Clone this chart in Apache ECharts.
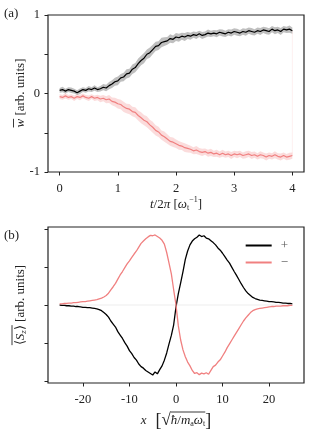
<!DOCTYPE html>
<html><head><meta charset="utf-8">
<script src="https://cdn.jsdelivr.net/npm/echarts@6/dist/echarts.min.js"></script>
<style>html,body{margin:0;padding:0;background:#fff}#c{width:319px;height:443px}</style>
</head><body><div id="c"></div>
<script>
// ---------- Panel (a) data ----------
var tA = [0,0.05,0.1,0.15,0.2,0.25,0.3,0.35,0.4,0.45,0.5,0.55,0.6,0.65,0.7,0.75,0.8,0.85,0.9,0.95,
1,1.05,1.1,1.15,1.2,1.25,1.3,1.35,1.4,1.45,1.5,1.55,1.6,1.65,1.7,1.75,1.8,1.85,1.9,1.95,
2,2.05,2.1,2.15,2.2,2.25,2.3,2.35,2.4,2.45,2.5,2.55,2.6,2.65,2.7,2.75,2.8,2.85,2.9,2.95,
3,3.05,3.1,3.15,3.2,3.25,3.3,3.35,3.4,3.45,3.5,3.55,3.6,3.65,3.7,3.75,3.8,3.85,3.9,3.95,4];
var wPlus = [0.04,0.05,0.03,0.05,0.04,0.03,0.01,0.03,0.05,0.04,0.06,0.05,0.07,0.05,0.06,0.08,0.07,0.10,0.12,0.15,
0.16,0.20,0.21,0.25,0.26,0.31,0.33,0.38,0.42,0.45,0.50,0.52,0.56,0.60,0.61,0.65,0.66,0.67,0.70,0.69,
0.72,0.71,0.73,0.72,0.74,0.73,0.75,0.74,0.76,0.74,0.75,0.77,0.76,0.77,0.76,0.78,0.77,0.76,0.78,0.77,
0.79,0.78,0.77,0.79,0.78,0.80,0.79,0.78,0.80,0.79,0.81,0.80,0.79,0.82,0.80,0.81,0.79,0.82,0.81,0.82,0.80];
var wMinus = [-0.04,-0.05,-0.03,-0.05,-0.04,-0.06,-0.04,-0.05,-0.03,-0.05,-0.06,-0.04,-0.06,-0.05,-0.07,-0.06,-0.08,-0.07,-0.10,-0.11,
-0.13,-0.14,-0.17,-0.19,-0.20,-0.23,-0.24,-0.28,-0.31,-0.34,-0.36,-0.40,-0.43,-0.47,-0.49,-0.53,-0.55,-0.58,-0.61,-0.62,
-0.64,-0.66,-0.67,-0.69,-0.70,-0.71,-0.73,-0.72,-0.74,-0.75,-0.74,-0.76,-0.75,-0.77,-0.76,-0.78,-0.76,-0.78,-0.77,-0.79,
-0.77,-0.78,-0.77,-0.79,-0.78,-0.77,-0.79,-0.78,-0.80,-0.78,-0.79,-0.81,-0.79,-0.80,-0.78,-0.80,-0.81,-0.79,-0.81,-0.80,-0.79];
var bandPlus = [0.03,0.035,0.03,0.03,0.035,0.03,0.03,0.035,0.03,0.03,0.035,0.03,0.035,0.03,0.035,0.04,
0.04,0.045,0.05,0.05,0.055,0.05,0.055,0.06,0.055,0.06,0.06,0.065,0.06,0.065,0.06,0.065,0.06,0.06,0.055,0.06,0.055,0.05,0.055,0.05,0.05,0.05,0.045,0.05,0.045,
0.045,0.04,0.045,0.04,0.045,0.04,0.045,0.04,0.04,0.045,0.04,0.045,0.04,0.04,0.045,0.04,0.045,0.04,0.04,0.045,0.04,0.045,0.04,0.04,0.045,0.04,0.045,0.04,0.04,0.045,0.04,0.045,0.04,0.04,0.045,0.04];
var bandMinus = [0.03,0.03,0.035,0.03,0.03,0.035,0.03,0.035,0.03,0.03,0.035,0.03,0.035,0.035,0.04,0.04,
0.045,0.05,0.05,0.055,0.06,0.06,0.065,0.06,0.065,0.06,0.065,0.065,0.07,0.065,0.07,0.065,0.07,0.065,0.065,0.06,0.065,0.06,0.055,0.06,0.055,0.055,0.05,0.055,0.05,
0.045,0.045,0.05,0.045,0.045,0.04,0.045,0.045,0.04,0.045,0.04,0.045,0.04,0.04,0.045,0.04,0.045,0.04,0.04,0.045,0.04,0.045,0.04,0.04,0.045,0.04,0.045,0.04,0.04,0.045,0.04,0.045,0.04,0.04,0.045,0.04];
var tTicks = [0,1,2,3,4];
var wTicks = [-1,-0.5,0,0.5,1];
var wLabelled = [-1,0,1];

// ---------- Panel (b) data ----------
var xB = [-25,-24.5,-24,-23.5,-23,-22.5,-22,-21.5,-21,-20.5,-20,-19.5,-19,-18.5,-18,-17.5,-17,-16.5,-16,-15.5,
-15,-14.5,-14,-13.5,-13,-12.5,-12,-11.5,-11,-10.5,-10,-9.5,-9,-8.5,-8,-7.5,-7,-6.5,-6,-5.5,
-5,-4.5,-4,-3.5,-3,-2.5,-2,-1.5,-1,-0.5,0,0.5,1,1.5,2,2.5,3,3.5,4,4.5,
5,5.5,6,6.5,7,7.5,8,8.5,9,9.5,10,10.5,11,11.5,12,12.5,13,13.5,14,14.5,
15,15.5,16,16.5,17,17.5,18,18.5,19,19.5,20,20.5,21,21.5,22,22.5,23,23.5,24,24.5,25];
var szPlus = [0.00,-0.01,-0.01,-0.02,-0.02,-0.03,-0.03,-0.04,-0.04,-0.05,-0.06,-0.06,-0.07,-0.07,-0.08,-0.09,-0.10,-0.12,-0.15,-0.20,
-0.25,-0.32,-0.42,-0.50,-0.58,-0.70,-0.79,-0.88,-0.99,-1.08,-1.20,-1.28,-1.38,-1.45,-1.55,-1.62,-1.66,-1.72,-1.76,-1.80,
-1.84,-1.76,-1.81,-1.70,-1.60,-1.45,-1.26,-1.02,-0.80,-0.52,-0.05,0.30,0.58,0.88,1.20,1.42,1.58,1.68,1.74,1.78,
1.84,1.80,1.82,1.76,1.74,1.69,1.64,1.58,1.50,1.44,1.36,1.27,1.18,1.10,0.99,0.88,0.78,0.67,0.56,0.46,
0.37,0.30,0.25,0.20,0.17,0.15,0.13,0.12,0.11,0.10,0.09,0.09,0.08,0.07,0.07,0.06,0.05,0.05,0.04,0.04,0.03];
var szMinus = [0.03,0.03,0.04,0.04,0.05,0.05,0.06,0.06,0.07,0.08,0.09,0.09,0.10,0.11,0.12,0.13,0.14,0.16,0.18,0.21,
0.25,0.31,0.40,0.48,0.57,0.68,0.79,0.88,0.98,1.08,1.16,1.25,1.34,1.42,1.52,1.62,1.68,1.74,1.79,1.83,
1.82,1.84,1.80,1.76,1.70,1.60,1.38,1.10,0.82,0.40,0.00,-0.55,-0.92,-1.18,-1.36,-1.50,-1.60,-1.72,-1.80,-1.78,
-1.83,-1.79,-1.81,-1.78,-1.82,-1.72,-1.62,-1.58,-1.50,-1.44,-1.34,-1.24,-1.12,-1.02,-0.92,-0.82,-0.72,-0.62,-0.52,-0.42,
-0.34,-0.27,-0.20,-0.15,-0.12,-0.10,-0.09,-0.08,-0.07,-0.06,-0.05,-0.04,-0.04,-0.03,-0.03,-0.03,-0.02,-0.02,-0.02,-0.01,-0.01];
var xTicksB = [-20,-10,0,10,20];
var szTicks = [-2,-1,0,1,2];
var legendNames = ["+","\u2212"];

// ---------- helpers ----------
function pairs(xs, ys){ return xs.map(function(x,i){return [x, ys[i]];}); }
var FONT = "'Liberation Serif'";
var TXT = "#222";
var mctx = document.createElement("canvas").getContext("2d");
function fontStr(p){ return (p.it ? "italic " : "") + p.sz + "px " + FONT; }
function measure(p){ mctx.font = fontStr(p); return mctx.measureText(p.t).width; }
function runLabel(pieces, ovFrom, ovTo, ovY){
  var widths = pieces.map(measure);
  var total = widths.reduce(function(a,b){return a+b;},0);
  var x = -total/2, kids = [], xs = [];
  pieces.forEach(function(p,i){
    xs.push(x);
    kids.push({type:"text", x:x, y:(p.dy||0), silent:true,
      style:{text:p.t, font:fontStr(p), fill:TXT, align:"left", verticalAlign:"middle"}});
    x += widths[i];
  });
  if (ovFrom != null){
    var x0 = xs[ovFrom], x1 = xs[ovTo] + widths[ovTo];
    kids.push({type:"line", silent:true, shape:{x1:x0, y1:ovY, x2:x1, y2:ovY}, style:{stroke:TXT, lineWidth:0.9}});
  }
  return kids;
}
function bandRender(mean, band, fill){
  return function(params, api){
    var pts = [], i;
    for (i = 0; i < tA.length; i++) pts.push(api.coord([tA[i], mean[i] + band[i]]));
    for (i = tA.length - 1; i >= 0; i--) pts.push(api.coord([tA[i], mean[i] - band[i]]));
    return {type:"polygon", shape:{points:pts}, style:{fill:fill}, silent:true};
  };
}

var SZ = 13;
var yLabA = runLabel([{t:"w", it:true, sz:SZ}, {t:" [arb. units]", sz:SZ}], 0, 0, -7.5);
var yLabB = runLabel([{t:"\u27e8", sz:SZ}, {t:"S", it:true, sz:SZ}, {t:"z", it:true, sz:9, dy:3},
                      {t:"\u27e9", sz:SZ}, {t:" [arb. units]", sz:SZ}], 0, 3, -9);
var xLabA = runLabel([{t:"t", it:true, sz:SZ}, {t:"/2", sz:SZ}, {t:"\u03c0", it:true, sz:SZ}, {t:" [", sz:SZ},
                      {t:"\u03c9", it:true, sz:SZ}, {t:"t", sz:8, dy:3}, {t:"\u22121", sz:8, dy:-5}, {t:"]", sz:SZ}]);
var xLabB = runLabel([{t:"x", it:true, sz:SZ}, {t:"  [", sz:18}, {t:"\u221a", sz:17, dy:0},
                      {t:"\u0127", it:true, sz:SZ}, {t:"/", sz:SZ}, {t:"m", it:true, sz:SZ}, {t:"a", sz:8, dy:3},
                      {t:"\u03c9", it:true, sz:SZ}, {t:"t", sz:8, dy:3}, {t:"]", sz:18}], 3, 8, -9);

var tickStyle = {show:true, inside:false, length:3.5, lineStyle:{color:"#222", width:1}};
var labelStyle = {color:TXT, fontSize:12.5, fontFamily:"Liberation Serif"};
var noLine = {show:false, onZero:false};

var chart = echarts.init(document.getElementById("c"), null, {renderer:"canvas"});
chart.setOption({
  animation:false,
  backgroundColor:"#fff",
  textStyle:{fontFamily:"Liberation Serif"},
  grid:[
    {left:48, top:15, width:256, height:157, show:true, borderColor:"#222", borderWidth:1.2, backgroundColor:"transparent"},
    {left:48, top:227, width:256, height:156, show:true, borderColor:"#222", borderWidth:1.2, backgroundColor:"transparent"}
  ],
  xAxis:[
    {type:"value", gridIndex:0, position:"bottom", min:-0.2, max:4.2, splitLine:{show:false}, axisLine:noLine,
     axisTick:Object.assign({customValues:tTicks}, tickStyle),
     axisLabel:Object.assign({customValues:tTicks, margin:10}, labelStyle)},
    {type:"value", gridIndex:1, position:"bottom", min:-27.5, max:27.5, splitLine:{show:false}, axisLine:noLine,
     axisTick:Object.assign({customValues:xTicksB}, tickStyle),
     axisLabel:Object.assign({customValues:xTicksB, margin:10}, labelStyle)}
  ],
  yAxis:[
    {type:"value", gridIndex:0, position:"left", min:-1, max:1, splitLine:{show:false}, axisLine:noLine,
     axisTick:Object.assign({customValues:wTicks}, tickStyle),
     axisLabel:Object.assign({customValues:wLabelled, margin:8}, labelStyle)},
    {type:"value", gridIndex:1, position:"left", min:-2.05, max:2.05, splitLine:{show:false}, axisLine:noLine,
     axisTick:Object.assign({customValues:szTicks}, tickStyle),
     axisLabel:{show:false}}
  ],
  legend:{
    data:legendNames, orient:"vertical", right:26, top:234, itemWidth:26, itemHeight:2, itemGap:4,
    icon:"rect", textStyle:{fontSize:13, fontFamily:"Liberation Serif", color:"#555", padding:[0,0,0,4]}, selectedMode:false
  },
  graphic:[
    {type:"text", left:4, top:7, silent:true, style:{text:"(a)", font:"13px 'Liberation Serif'", fill:TXT}},
    {type:"text", left:4, top:229, silent:true, style:{text:"(b)", font:"13px 'Liberation Serif'", fill:TXT}},
    {type:"group", x:21, y:93, rotation:Math.PI/2, children:yLabA},
    {type:"group", x:21, y:305, rotation:Math.PI/2, children:yLabB},
    {type:"group", x:176, y:205, children:xLabA},
    {type:"group", x:176, y:421, children:xLabB}
  ],
  series:[
    {type:"custom", xAxisIndex:0, yAxisIndex:0, data:[[0,0]], renderItem:bandRender(wMinus, bandMinus, "rgba(240,128,128,0.28)"), silent:true, z:1},
    {type:"custom", xAxisIndex:0, yAxisIndex:0, data:[[0,0]], renderItem:bandRender(wPlus, bandPlus, "rgba(0,0,0,0.25)"), silent:true, z:1},
    {type:"line", xAxisIndex:0, yAxisIndex:0, data:[[tA[tA.length-1], wPlus[wPlus.length-1]],[tA[tA.length-1], wMinus[wMinus.length-1]]], symbol:"none", lineStyle:{color:"rgba(240,128,128,0.15)", width:0.8}, silent:true, z:2},
    {type:"line", xAxisIndex:0, yAxisIndex:0, data:pairs(tA,wPlus), symbol:"none", lineStyle:{color:"#000", width:1.2}, z:3},
    {type:"line", xAxisIndex:0, yAxisIndex:0, data:pairs(tA,wMinus), symbol:"none", lineStyle:{color:"#f08080", width:1.2}, z:3},
    {type:"line", xAxisIndex:1, yAxisIndex:1, data:[[xB[0],0],[xB[xB.length-1],0]], symbol:"none", lineStyle:{color:"#e8e8e8", width:0.8}, silent:true},
    {type:"line", name:legendNames[0], xAxisIndex:1, yAxisIndex:1, data:pairs(xB,szPlus), symbol:"none", itemStyle:{color:"#000"}, lineStyle:{color:"#000", width:1.3}},
    {type:"line", name:legendNames[1], xAxisIndex:1, yAxisIndex:1, data:pairs(xB,szMinus), symbol:"none", itemStyle:{color:"#f08080"}, lineStyle:{color:"#f08080", width:1.3}}
  ]
});
</script></body></html>
